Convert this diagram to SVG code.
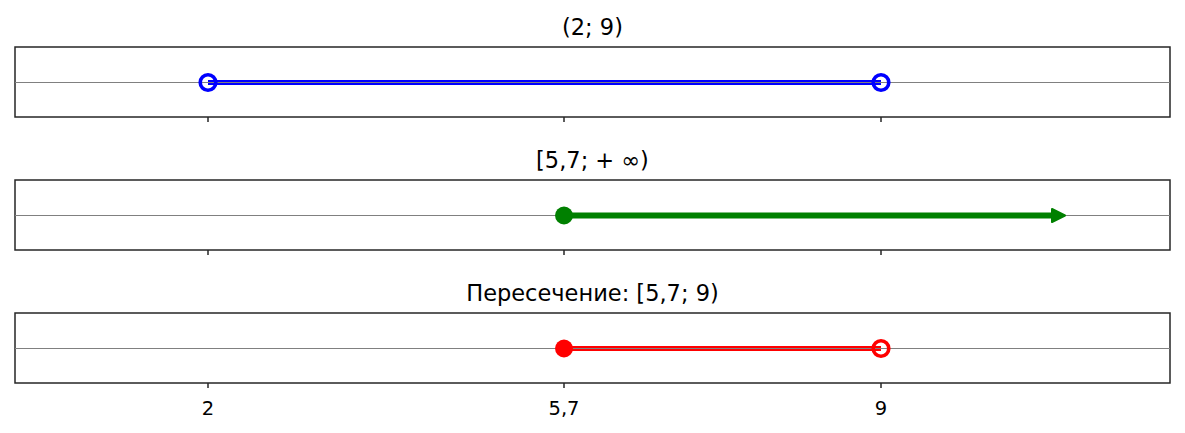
<svg xmlns="http://www.w3.org/2000/svg" width="1185" height="433" viewBox="0 0 1185 433">
<style>
.frame{fill:#fff;stroke:#262626;stroke-width:1.5}
.axis{stroke:#808080;stroke-width:1}
.tick{stroke:#262626;stroke-width:1.5}
.title{font-family:"DejaVu Sans",sans-serif;font-size:22.5px;fill:#000;text-anchor:middle}
.lbl{font-family:"DejaVu Sans",sans-serif;font-size:19.5px;fill:#000;text-anchor:middle}
</style>
<defs>
<marker id="arr" markerWidth="16" markerHeight="16" refX="0" refY="7.5" orient="auto" markerUnits="userSpaceOnUse">
<path d="M1,1 L14,7.5 L1,14 z" fill="#008000" stroke="#008000" stroke-width="2" stroke-linejoin="round"/>
</marker>
</defs>
<rect width="1185" height="433" fill="#fff"/>
<g id="panel1">
<rect class="frame" x="15" y="47" width="1155" height="70"/>
<line x1="208" y1="82.5" x2="881" y2="82.5" stroke="#0000ff" stroke-width="5"/>
<line class="axis" x1="15" y1="82.5" x2="1170" y2="82.5"/>
<circle cx="208" cy="82.5" r="7.8" fill="none" stroke="#0000ff" stroke-width="3.6"/>
<circle cx="881" cy="82.5" r="7.8" fill="none" stroke="#0000ff" stroke-width="3.6"/>
<line class="tick" x1="208" y1="117" x2="208" y2="122"/>
<line class="tick" x1="564" y1="117" x2="564" y2="122"/>
<line class="tick" x1="881" y1="117" x2="881" y2="122"/>
<text class="title" x="592.5" y="35">(2; 9)</text>
</g>
<g id="panel2">
<rect class="frame" x="15" y="180" width="1155" height="70"/>
<line class="axis" x1="15" y1="215.5" x2="1170" y2="215.5"/>
<line x1="564" y1="215.5" x2="1051" y2="215.5" stroke="#008000" stroke-width="6" marker-end="url(#arr)"/>
<circle cx="564" cy="215.5" r="9" fill="#008000"/>
<line class="tick" x1="208" y1="250" x2="208" y2="255"/>
<line class="tick" x1="564" y1="250" x2="564" y2="255"/>
<line class="tick" x1="881" y1="250" x2="881" y2="255"/>
<text class="title" x="592.5" y="168">[5,7;  + ∞)</text>
</g>
<g id="panel3">
<rect class="frame" x="15" y="313" width="1155" height="70"/>
<line x1="564" y1="348.5" x2="881" y2="348.5" stroke="#ff0000" stroke-width="5"/>
<line class="axis" x1="15" y1="348.5" x2="1170" y2="348.5"/>
<circle cx="564" cy="348.5" r="9" fill="#ff0000"/>
<circle cx="881" cy="348.5" r="7.8" fill="none" stroke="#ff0000" stroke-width="3.6"/>
<line class="tick" x1="208" y1="383" x2="208" y2="388"/>
<line class="tick" x1="564" y1="383" x2="564" y2="388"/>
<line class="tick" x1="881" y1="383" x2="881" y2="388"/>
<text class="title" x="592.5" y="301">Пересечение: [5,7; 9)</text>
<text class="lbl" x="208" y="415">2</text>
<text class="lbl" x="564" y="415">5,7</text>
<text class="lbl" x="881" y="415">9</text>
</g>
</svg>
